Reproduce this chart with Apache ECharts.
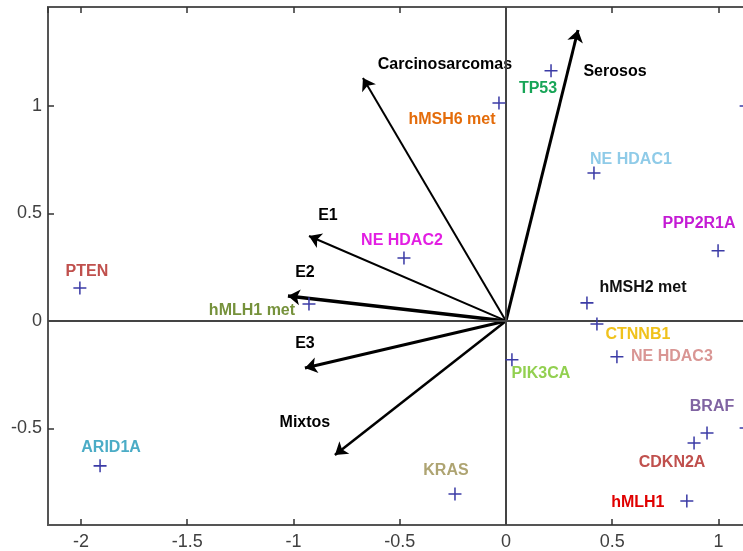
<!DOCTYPE html>
<html>
<head>
<meta charset="utf-8">
<script src="https://cdn.jsdelivr.net/npm/echarts@6/dist/echarts.min.js"></script>
<style>
html, body { margin: 0; padding: 0; background: #fff; overflow: hidden; }
/* the plot frame runs past the right edge of the window, as in the original */
#chart { width: 761px; height: 551px; }
</style>
</head>
<body>
<div id="chart"></div>
<script>
// variables (blue crosses)
const pointNames = ['PTEN', 'ARID1A', 'hMLH1 met', 'NE HDAC2', 'hMSH6 met', 'TP53', 'NE HDAC1', 'PPP2R1A',
  'hMSH2 met', 'CTNNB1', 'NE HDAC3', 'PIK3CA', 'KRAS', 'BRAF', 'CDKN2A', 'hMLH1'];
const pointX = [-2.005, -1.91, -0.927, -0.48, -0.033, 0.212, 0.414, 0.998,
  0.381, 0.428, 0.522, 0.028, -0.24, 0.946, 0.885, 0.851];
const pointY = [0.153, -0.674, 0.079, 0.293, 1.014, 1.163, 0.688, 0.326,
  0.084, -0.014, -0.167, -0.181, -0.805, -0.521, -0.568, -0.837];

// two crosses that are cut off at the right edge
const edgeX = [1.13, 1.13];
const edgeY = [1.0, -0.498];

// groups (arrows from origin)
const arrowNames = ['Carcinosarcomas', 'Serosos', 'E1', 'E2', 'E3', 'Mixtos'];
const arrowX = [-0.673, 0.339, -0.927, -1.026, -0.946, -0.805];
const arrowY = [1.13, 1.353, 0.395, 0.116, -0.219, -0.623];

// label colour and pixel offset from its mark
const pointStyle = {
  'PTEN': ['#c0504d', [7, -16]],
  'ARID1A': ['#4bacc6', [11, -18]],
  'hMLH1 met': ['#76923c', [-57, 7]],
  'NE HDAC2': ['#e21ee2', [-2, -17]],
  'hMSH6 met': ['#e46c0a', [-47, 17]],
  'TP53': ['#17a557', [-13, 18]],
  'NE HDAC1': ['#8fcbe8', [37, -13]],
  'PPP2R1A': ['#c41cd4', [-19, -27]],
  'hMSH2 met': ['#111111', [56, -15]],
  'CTNNB1': ['#f0c21c', [41, 11]],
  'NE HDAC3': ['#d99694', [55, 0]],
  'PIK3CA': ['#92d050', [29, 14]],
  'KRAS': ['#aea472', [-9, -23]],
  'BRAF': ['#8064a2', [5, -26]],
  'CDKN2A': ['#c0504d', [-22, 20]],
  'hMLH1': ['#e00000', [-49, 2]]
};
const arrowStyle = {
  'Carcinosarcomas': [2, [82, -13]],
  'Serosos': [3, [37, 42]],
  'E1': [2, [19, -20]],
  'E2': [3.5, [17, -23]],
  'E3': [3, [0, -24]],
  'Mixtos': [2.5, [-30, -32]]
};

const FONT = "'Liberation Sans', Arial, sans-serif";
const PLUS = 'path://M5.3,0H6.7V5.3H12V6.7H6.7V12H5.3V6.7H0V5.3H5.3Z';

let chart = echarts.init(document.getElementById('chart'));

const halfTicks = v => Math.abs(v * 2 - Math.round(v * 2)) < 1e-6 ? String(Math.round(v * 100) / 100) : '';

let pointData = pointNames.map((n, i) => ({
  name: n,
  value: [pointX[i], pointY[i]],
  label: { color: pointStyle[n][0], offset: pointStyle[n][1] }
}));
edgeX.forEach((x, i) => pointData.push({ name: '', value: [x, edgeY[i]] }));

let arrowLines = arrowNames.map((n, i) => ({
  coords: [[0, 0], [arrowX[i], arrowY[i]]],
  lineStyle: { width: arrowStyle[n][0] }
}));
let arrowLabels = arrowNames.map((n, i) => ({
  name: n,
  value: [arrowX[i], arrowY[i]],
  label: { offset: arrowStyle[n][1] }
}));

const tick = { inside: true, length: 6, lineStyle: { color: '#333', width: 1.5 } };

let option = {
  animation: false,
  backgroundColor: '#fff',
  grid: {
    left: 48, top: 7, bottom: 26, right: 0,
    show: true, borderColor: '#555', borderWidth: 2
  },
  xAxis: [{
    type: 'value', min: -2.155, max: 1.2, splitNumber: 7,
    axisLine: { show: false, onZero: false },
    axisTick: tick,
    splitLine: { show: false },
    axisLabel: { formatter: halfTicks, showMinLabel: false, showMaxLabel: false, color: '#404040', fontSize: 18, fontFamily: FONT, margin: 8 }
  }, {
    type: 'value', position: 'top', min: -2.155, max: 1.2, splitNumber: 7,
    axisLine: { show: false, onZero: false },
    axisTick: tick,
    splitLine: { show: false },
    axisLabel: { show: false }
  }],
  yAxis: {
    type: 'value', min: -0.949, max: 1.46, splitNumber: 5,
    axisLine: { show: false, onZero: false },
    axisTick: tick,
    splitLine: { show: false },
    axisLabel: { formatter: halfTicks, showMinLabel: false, showMaxLabel: false, color: '#404040', fontSize: 18, fontFamily: FONT, margin: 6 }
  },
  series: [{
    // zero lines
    type: 'scatter', data: [], z: 1,
    markLine: {
      silent: true, symbol: ['none', 'none'], label: { show: false },
      lineStyle: { color: '#444', width: 2, type: 'solid' },
      data: [{ xAxis: 0 }, { yAxis: 0 }]
    }
  }, {
    type: 'lines', coordinateSystem: 'cartesian2d', z: 3,
    symbol: ['none', 'arrow'], symbolSize: 12,
    lineStyle: { color: '#000', opacity: 1, curveness: 0 },
    data: arrowLines
  }, {
    type: 'scatter', z: 4,
    symbolSize: 0, itemStyle: { color: '#000', opacity: 1 },
    label: {
      show: true, position: 'inside', formatter: '{b}',
      color: '#000', textBorderWidth: 0,
      fontSize: 16, fontWeight: 'bold', fontFamily: FONT
    },
    data: arrowLabels
  }, {
    type: 'scatter', z: 5,
    symbol: PLUS, symbolSize: 13,
    itemStyle: { color: '#3b3ba6', opacity: 1 },
    label: {
      show: true, position: 'inside', formatter: '{b}', textBorderWidth: 0,
      fontSize: 16, fontWeight: 'bold', fontFamily: FONT
    },
    data: pointData
  }]
};
chart.setOption(option);
</script>
</body>
</html>
